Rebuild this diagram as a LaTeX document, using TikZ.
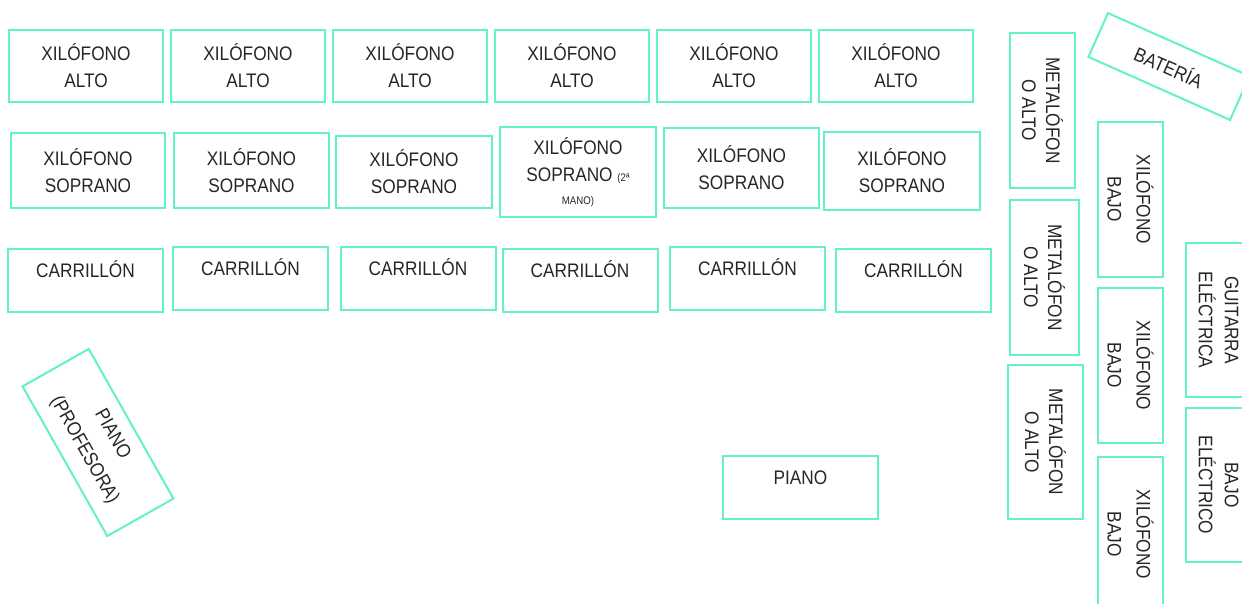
\documentclass[tikz,border=0pt]{standalone}
\usepackage{fontspec}
\setmainfont{Liberation Sans}[FakeStretch=0.88]
\definecolor{tq}{RGB}{100,240,200}
\begin{document}
\begin{tikzpicture}[x=0.5pt,y=0.5pt,
 box/.style={draw=tq, line width=1pt, rectangle, inner sep=0pt, align=center,
   font=\fontsize{9.8}{13.5}\selectfont, text=black!85},
 xa/.style={box, minimum width=77pt, minimum height=36pt},
 carr/.style={box, minimum width=77.5pt, minimum height=31.5pt, text height=7pt, text depth=10pt},
 vbox/.style={box, rotate=-90, minimum width=77.5pt, minimum height=32.5pt},
 metal/.style={vbox, font=\fontsize{9.8}{12}\selectfont},
 xbajo/.style={vbox, font=\fontsize{9.8}{14.5}\selectfont},
 elec/.style={vbox, font=\fontsize{9.8}{13}\selectfont},
]
\useasboundingbox (0,0) rectangle (1242,-604);
\clip (0,0) rectangle (1242,-604);
\fill[white] (0,0) rectangle (1242,-604);

% Row 1: xilofono alto
\node[xa] (a1) at (86,-66) {XILÓFONO\\ALTO};
\node[xa] (a2) at (248,-66) {XILÓFONO\\ALTO};
\node[xa] (a3) at (410,-66) {XILÓFONO\\ALTO};
\node[xa] (a4) at (572,-66) {XILÓFONO\\ALTO};
\node[xa] (a5) at (734,-66) {XILÓFONO\\ALTO};
\node[xa] (a6) at (896,-66) {XILÓFONO\\ALTO};

% Row 2: xilofono soprano
\node[box, minimum width=77pt, minimum height=37.5pt] (s1) at (88,-170.5) {XILÓFONO\\SOPRANO};
\node[box, minimum width=77.5pt, minimum height=37.5pt] (s2) at (251.5,-170.5) {XILÓFONO\\SOPRANO};
\node[box, minimum width=78pt, minimum height=36pt] (s3) at (414,-172) {XILÓFONO\\SOPRANO};
\node[box, minimum width=78pt, minimum height=45pt] (s4) at (578,-172)
  {XILÓFONO\\SOPRANO {\fontsize{5.5}{6}\selectfont (2ª}\\[-2pt]{\fontsize{5.5}{6}\selectfont MANO)}};
\node[box, minimum width=77.5pt, minimum height=40pt] (s5) at (741.5,-168) {XILÓFONO\\SOPRANO};
\node[box, minimum width=78pt, minimum height=39pt] (s6) at (902,-171) {XILÓFONO\\SOPRANO};

% Row 3: carrillon
\node[carr] (c1) at (85.5,-280.5) {CARRILLÓN};
\node[carr] (c2) at (250.5,-279) {CARRILLÓN};
\node[carr] (c3) at (418,-278.5) {CARRILLÓN};
\node[carr] (c4) at (580,-280.5) {CARRILLÓN};
\node[carr] (c5) at (747.5,-278.5) {CARRILLÓN};
\node[carr] (c6) at (913.5,-280.5) {CARRILLÓN};

% Piano
\node[carr] (piano) at (800.5,-487.5) {PIANO};

% Piano profesora (rotated)
\node[box, rotate=-60.5, minimum width=86pt, minimum height=38pt,
  font=\fontsize{9.8}{16}\selectfont] (pp) at (98,-442.5) {PIANO\\(PROFESORA)};

% Bateria (rotated)
\node[box, rotate=-24, minimum width=77.5pt, minimum height=24pt] (bat) at (1169,-66.5) {BATERÍA};

% Metalofonos
\node[metal] (m1) at (1042.5,-110.5) {METALÓFON\\O ALTO};
\node[metal, minimum height=34.5pt] (m2) at (1044.5,-277.5) {METALÓFON\\O ALTO};
\node[metal, minimum width=77pt, minimum height=37.5pt] (m3) at (1045.5,-442) {METALÓFON\\O ALTO};

% Xilofonos bajos
\node[xbajo] (xb1) at (1130.5,-199.5) {XILÓFONO\\BAJO};
\node[xbajo] (xb2) at (1130.5,-365.5) {XILÓFONO\\BAJO};
\node[xbajo] (xb3) at (1130.5,-534.5) {XILÓFONO\\BAJO};

% Guitarra y bajo electricos
\node[elec, minimum width=77pt] (gui) at (1218.5,-320) {GUITARRA\\ELÉCTRICA};
\node[elec, minimum width=77pt] (bel) at (1218.5,-485) {BAJO\\ELÉCTRICO};
\end{tikzpicture}
\end{document}
